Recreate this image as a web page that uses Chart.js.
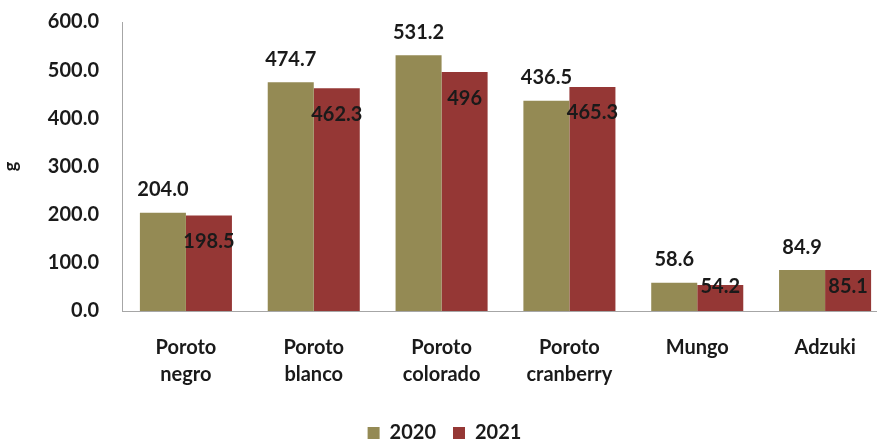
<!DOCTYPE html>
<html>
<head>
<meta charset="utf-8">
<script src="https://cdn.jsdelivr.net/npm/chart.js@4"></script>
<style>
  html, body { margin: 0; padding: 0; background: #fff; overflow: hidden; }
  #wrap { width: 877px; height: 447px; overflow: hidden; }
  canvas { display: block; }
</style>
</head>
<body>
<!-- el gráfico original está recortado a la derecha: el lienzo es más ancho que la ventana -->
<div id="wrap"><canvas id="chart" width="889" height="447"></canvas></div>
<script>
// Datos
const categorias = [['Poroto', 'negro'], ['Poroto', 'blanco'], ['Poroto', 'colorado'], ['Poroto', 'cranberry'], 'Mungo', 'Adzuki'];
const valores2020 = [204.0, 474.7, 531.2, 436.5, 58.6, 84.9];
const valores2021 = [198.5, 462.3, 496, 465.3, 54.2, 85.1];
const etiquetas2020 = ['204.0', '474.7', '531.2', '436.5', '58.6', '84.9'];
const etiquetas2021 = ['198.5', '462.3', '496', '465.3', '54.2', '85.1'];
const yTicks = [0, 100, 200, 300, 400, 500, 600];

const FONT = 'Lato, "Open Sans", sans-serif';

// Etiquetas de valores: 2020 sobre la barra, 2021 dentro de la barra
const etiquetasPlugin = {
    id: 'etiquetas',
    afterDatasetsDraw(chart) {
        const ctx = chart.ctx;
        const base = chart.scales.y.getPixelForValue(0);
        ctx.save();
        ctx.font = 'bold 20px ' + FONT;
        ctx.fillStyle = '#1a1a1a';
        ctx.textAlign = 'center';
        ctx.textBaseline = 'middle';
        chart.getDatasetMeta(0).data.forEach((bar, i) => {
            ctx.fillText(etiquetas2020[i], bar.x, bar.y - 23);
        });
        chart.getDatasetMeta(1).data.forEach((bar, i) => {
            // dentro del extremo, sin bajar demasiado en barras cortas
            const y = Math.min(bar.y + 26, base - 24);
            ctx.fillText(etiquetas2021[i], bar.x, y);
        });
        ctx.restore();
    }
};

new Chart(document.getElementById('chart'), {
    type: 'bar',
    data: {
        labels: categorias,
        datasets: [
            { label: '2020', data: valores2020, backgroundColor: '#948A54' },
            { label: '2021', data: valores2021, backgroundColor: '#953735' }
        ]
    },
    options: {
        responsive: false,
        animation: false,
        layout: { padding: { top: 22, left: 0, right: 0, bottom: -6 } },
        datasets: { bar: { categoryPercentage: 0.72, barPercentage: 1.0 } },
        scales: {
            y: {
                min: 0, max: 600,
                afterBuildTicks: (scale) => { scale.ticks = yTicks.map(v => ({ value: v })); },
                ticks: {
                    callback: (v) => Number(v).toFixed(1),
                    color: '#1a1a1a',
                    font: { family: FONT, size: 20, weight: 'bold' },
                    padding: 15
                },
                grid: { display: false },
                border: { display: true, color: '#a6a6a6', width: 1 },
                title: { display: true, text: 'g', color: '#1a1a1a', font: { family: FONT, size: 18, weight: 'bold' }, padding: { top: 0, bottom: 6 } },
                afterFit: (scale) => { scale.width = 122; scale.paddingTop = 0; }
            },
            x: {
                ticks: {
                    color: '#1a1a1a',
                    font: { family: FONT, size: 20, weight: 'bold', lineHeight: 1.35 },
                    padding: 15,
                    maxRotation: 0
                },
                grid: { display: false },
                border: { display: true, color: '#a6a6a6', width: 1 },
                afterFit: (scale) => { scale.height = 95; scale.paddingLeft = 0; scale.paddingRight = 0; }
            }
        },
        plugins: {
            legend: {
                position: 'bottom',
                labels: {
                    color: '#1a1a1a',
                    font: { family: FONT, size: 20, weight: 'bold' },
                    boxWidth: 12, boxHeight: 12,
                    padding: 17
                }
            },
            tooltip: { enabled: false }
        }
    },
    plugins: [etiquetasPlugin]
});
</script>
</body>
</html>
